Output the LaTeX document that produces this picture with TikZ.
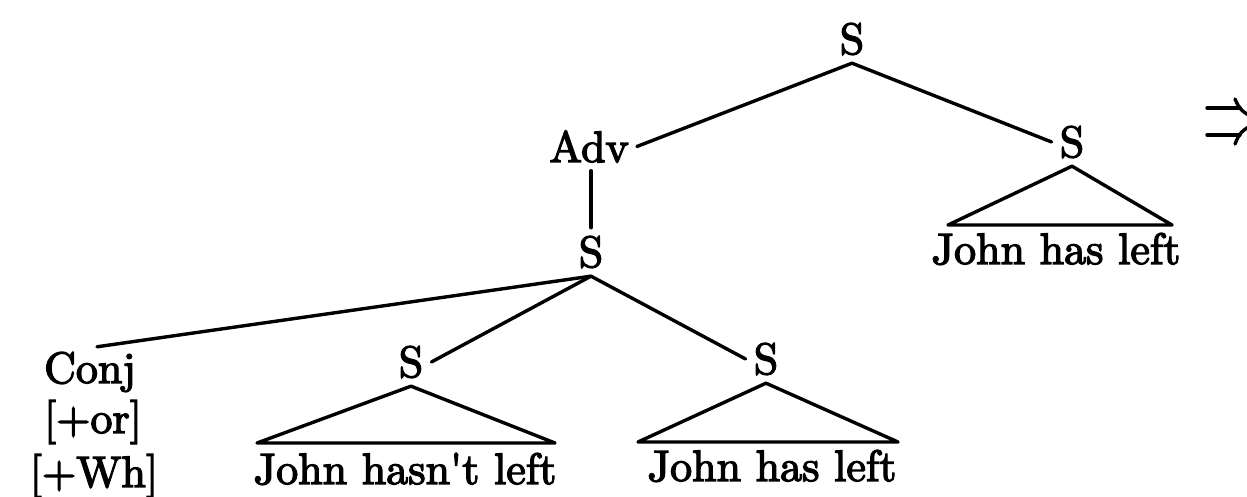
\documentclass[tikz,border=0pt]{standalone}
\usepackage{fontspec}
\newfontfamily\heavy{lmroman10-regular.otf}[FakeBold=3]
\usetikzlibrary{calc}
\begin{document}
\begin{tikzpicture}[x=1pt,y=-1pt,
  every node/.style={font=\heavy\fontsize{44}{52}\selectfont},
  tn/.style={anchor=base,inner sep=8pt},
  tx/.style={anchor=base,inner sep=0pt},
  br/.style={line width=3.4pt,line cap=round,line join=round}]
\clip (0,0) rectangle (1247,496);
\fill[white] (0,0) rectangle (1247,496);
% tree nodes
\node[tn] (S0) at (852,54) {S};
\node[tn] (Adv) at (589,162) {Adv};
\node[tn] (S1) at (1072,157) {S};
\node[tn] (S2) at (591,267) {S};
\node[tn] (Conj) at (90,383) {Conj};
\node[tx] (or) at (93,433) {[+or]};
\node[tx] (wh) at (94,487) {[+Wh]};
\node[tn] (S3) at (411,377) {S};
\node[tn] (S4) at (766,374) {S};
\node[tx] (t1) at (1056,264) {John has left};
\node[tx] (t3) at (405,484) {John hasn't left};
\node[tx] (t4) at (772,481) {John has left};
% triangle base corners
\coordinate (T1l) at (948,225);
\coordinate (T1r) at (1172,225);
\coordinate (T3l) at (257,443);
\coordinate (T3r) at (555,443);
\coordinate (T4l) at (638,442);
\coordinate (T4r) at (898,442);
% branches
\draw[br] (S0.south) -- (Adv.east);
\draw[br] (S0.south) -- (S1.west);
\draw[br] (S2.north |- Adv.south) -- (S2.north);
\draw[br] (S2.south) -- ($(Conj.north)+(7,3)$);
\draw[br] (S2.south) -- (S3.east);
\draw[br] (S2.south) -- (S4.west);
\draw[br] (S1.south) -- (T1l) -- (T1r) -- cycle;
\draw[br] (S3.south) -- (T3l) -- (T3r) -- cycle;
\draw[br] (S4.south) -- (T4l) -- (T4r) -- cycle;
% double arrow at the right edge (cut off)
\draw[br] (1207,108) -- (1240,108);
\draw[br] (1207,135) -- (1240,135);
\draw[br] (1235,99) .. controls (1240,110) .. (1258,121);
\draw[br] (1258,121) .. controls (1240,132) .. (1235,144);
\end{tikzpicture}
\end{document}
